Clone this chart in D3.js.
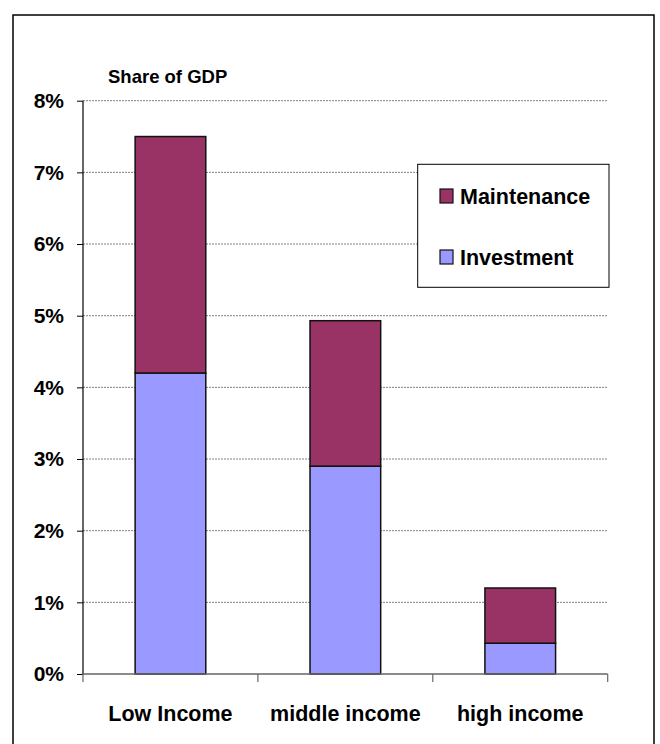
<!DOCTYPE html>
<html>
<head>
<meta charset="utf-8">
<script src="https://cdn.jsdelivr.net/npm/d3@7/dist/d3.min.js"></script>
<style>
  html, body { margin: 0; padding: 0; background: #fff; }
  svg { display: block; font-family: "Liberation Sans", Arial, sans-serif; font-weight: bold; }
</style>
</head>
<body>
<svg id="chart" width="660" height="744"></svg>
<script>
// Road spending as a share of GDP, by country income group
const categories = ["Low Income", "middle income", "high income"];
const investment = [0.042, 0.029, 0.0043];
const maintenance = [0.033, 0.0203, 0.0077];
const seriesNames = ["Maintenance", "Investment"];
const yTicks = [0, 0.01, 0.02, 0.03, 0.04, 0.05, 0.06, 0.07, 0.08];

const colors = { Investment: "#9999FF", Maintenance: "#993366" };

const svg = d3.select("#chart");

// outer frame
svg.append("rect")
  .attr("x", 13).attr("y", 15)
  .attr("width", 641).attr("height", 760)
  .attr("fill", "none").attr("stroke", "#000").attr("stroke-width", 1.5);

const plot = { left: 83, right: 607.7, top: 100.7, bottom: 674 };

const x = d3.scaleBand()
  .domain(categories)
  .range([plot.left, plot.right])
  .paddingInner(0.596)
  .paddingOuter(0.298);

const y = d3.scaleLinear()
  .domain([0, 0.08])
  .range([plot.bottom, plot.top]);

// dashed gridlines
svg.append("g")
  .selectAll("line")
  .data(yTicks.filter(d => d > 0))
  .join("line")
  .attr("x1", plot.left).attr("x2", plot.right)
  .attr("y1", d => y(d)).attr("y2", d => y(d))
  .attr("stroke", "#808080").attr("stroke-width", 1)
  .attr("stroke-dasharray", "2,1");

// stacked data
const rows = categories.map((c, i) => ({ cat: c, Investment: investment[i], Maintenance: maintenance[i] }));
const stack = d3.stack().keys(["Investment", "Maintenance"]);
const layers = stack(rows);

svg.append("g")
  .selectAll("g")
  .data(layers)
  .join("g")
  .attr("fill", d => colors[d.key])
  .selectAll("rect")
  .data(d => d)
  .join("rect")
  .attr("x", d => x(d.data.cat))
  .attr("width", x.bandwidth())
  .attr("y", d => y(d[1]))
  .attr("height", d => y(d[0]) - y(d[1]))
  .attr("stroke", "#111").attr("stroke-width", 1.5);

// y axis
const yAxis = d3.axisLeft(y)
  .tickValues(yTicks)
  .tickFormat(d3.format(".0%"))
  .tickSize(6)
  .tickPadding(13);

const gy = svg.append("g")
  .attr("transform", `translate(${plot.left},0)`)
  .call(yAxis);
gy.select(".domain").attr("stroke", "#000").attr("stroke-width", 1.2)
  .attr("d", `M0,${plot.top}V${plot.bottom}`);
gy.selectAll(".tick line").attr("stroke", "#000");
gy.selectAll(".tick text")
  .attr("font-size", 21).attr("font-family", "Liberation Sans, Arial, sans-serif")
  .attr("font-weight", "bold").attr("fill", "#000")
  .attr("dy", "0.33em");

// x axis with ticks between categories
const step = x.step();
const boundaries = d3.range(categories.length + 1).map(i => plot.left + i * step);
const gx = svg.append("g");
gx.append("line")
  .attr("x1", plot.left).attr("x2", plot.right)
  .attr("y1", plot.bottom).attr("y2", plot.bottom)
  .attr("stroke", "#666").attr("stroke-width", 1.5);
gx.selectAll("line.tk")
  .data(boundaries)
  .join("line")
  .attr("class", "tk")
  .attr("x1", d => d).attr("x2", d => d)
  .attr("y1", plot.bottom).attr("y2", plot.bottom + 8)
  .attr("stroke", "#666").attr("stroke-width", 1.2);
gx.selectAll("text")
  .data(categories)
  .join("text")
  .attr("x", d => x(d) + x.bandwidth() / 2)
  .attr("y", 721)
  .attr("text-anchor", "middle")
  .attr("font-size", 21.5)
  .attr("fill", "#000")
  .text(d => d);

// axis title
svg.append("text")
  .attr("x", 108).attr("y", 83)
  .attr("font-size", 18.5)
  .attr("fill", "#000")
  .text("Share of GDP");

// legend
const legend = svg.append("g");
legend.append("rect")
  .attr("x", 417.7).attr("y", 164.3)
  .attr("width", 191.3).attr("height", 123)
  .attr("fill", "#fff").attr("stroke", "#000").attr("stroke-width", 1);

const legendY = [196, 257];
const items = legend.selectAll("g.item")
  .data(seriesNames)
  .join("g")
  .attr("class", "item")
  .attr("transform", (d, i) => `translate(440,${legendY[i]})`);
items.append("rect")
  .attr("x", 0).attr("y", -7)
  .attr("width", 13).attr("height", 14)
  .attr("fill", d => colors[d]).attr("stroke", "#111").attr("stroke-width", 1.2);
items.append("text")
  .attr("x", 20).attr("y", 8)
  .attr("font-size", 21.5)
  .attr("fill", "#000")
  .text(d => d);
</script>
</body>
</html>
